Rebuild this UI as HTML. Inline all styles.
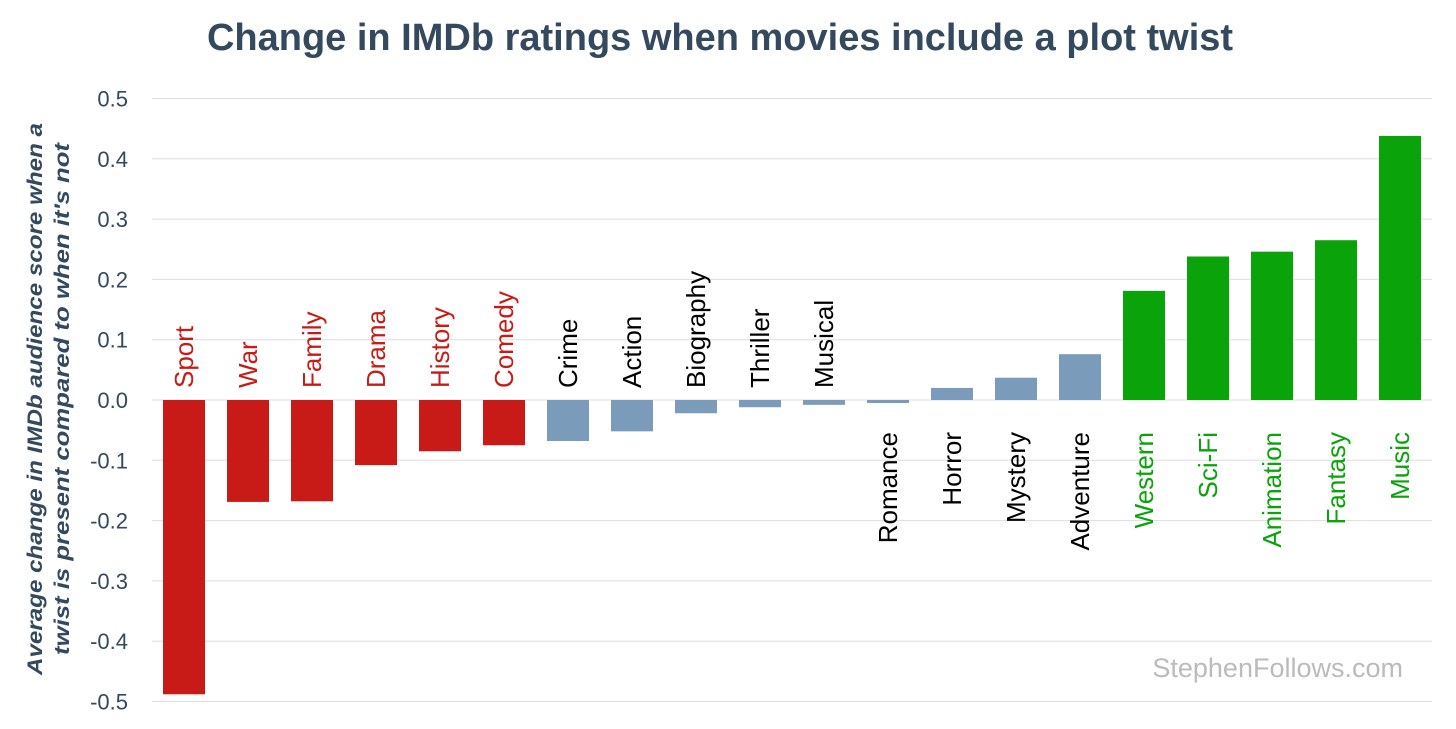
<!DOCTYPE html>
<html><head><meta charset="utf-8">
<style>
html,body{margin:0;padding:0;background:#fff;}
svg{display:block;font-family:"Liberation Sans",sans-serif;}
</style></head>
<body>
<svg id="chart" width="1456" height="729" viewBox="0 0 1456 729">
<text x="720" y="50" text-anchor="middle" font-size="38" font-weight="bold" fill="#34495e">Change in IMDb ratings when movies include a plot twist</text>
<g transform="translate(42,399) rotate(-90)" font-size="21.5" font-weight="bold" font-style="italic" fill="#34495e" text-anchor="middle">
<text x="0" y="0" textLength="552" lengthAdjust="spacingAndGlyphs">Average change in IMDb audience score when a</text>
<text x="0" y="27" textLength="512" lengthAdjust="spacingAndGlyphs">twist is present compared to when it's not</text>
</g>
<g id="grid"></g>
<g id="bars"></g>
<g id="labels"></g>
<text x="1403" y="677" text-anchor="end" font-size="27" fill="#bbbbbb">StephenFollows.com</text>
</svg>
<script>
const categories=["Sport","War","Family","Drama","History","Comedy","Crime","Action","Biography","Thriller","Musical","Romance","Horror","Mystery","Adventure","Western","Sci-Fi","Animation","Fantasy","Music"];
const values=[-0.488,-0.169,-0.168,-0.108,-0.085,-0.075,-0.068,-0.052,-0.022,-0.012,-0.008,-0.005,0.02,0.037,0.076,0.181,0.238,0.246,0.265,0.438];
const groups=["neg","neg","neg","neg","neg","neg","mid","mid","mid","mid","mid","mid","mid","mid","mid","pos","pos","pos","pos","pos"];
const labelSide=["above","above","above","above","above","above","above","above","above","above","above","below","below","below","below","below","below","below","below","below"];
const ticks=[0.5,0.4,0.3,0.2,0.1,0.0,-0.1,-0.2,-0.3,-0.4,-0.5];
const tickLabels=["0.5","0.4","0.3","0.2","0.1","0.0","-0.1","-0.2","-0.3","-0.4","-0.5"];
const NS="http://www.w3.org/2000/svg";
const y0=400,ppu=603,x0=184,step=64,bw=42,left=152,right=1432;
const y=v=>y0-v*ppu;
const x=i=>x0+i*step;
const barCol={neg:"#c81b17",mid:"#7a9cba",pos:"#0aa30a"};
const txtCol={neg:"#c81b17",mid:"#000000",pos:"#0aa30a"};
const grid=document.getElementById('grid'),bars=document.getElementById('bars'),labels=document.getElementById('labels');
ticks.forEach((t,i)=>{
 const l=document.createElementNS(NS,'line');
 l.setAttribute('x1',left);l.setAttribute('x2',right);
 l.setAttribute('y1',y(t));l.setAttribute('y2',y(t));
 l.setAttribute('stroke','#dddddd');l.setAttribute('stroke-width','1');
 
 
 grid.appendChild(l);
 const tx=document.createElementNS(NS,'text');
 tx.setAttribute('x',128);tx.setAttribute('y',y(t)+8);
 tx.setAttribute('text-anchor','end');tx.setAttribute('font-size','22');tx.setAttribute('fill','#34495e');
 tx.textContent=tickLabels[i];
 
 
 grid.appendChild(tx);
});
categories.forEach((c,i)=>{
 const v=values[i];
 const r=document.createElementNS(NS,'rect');
 r.setAttribute('x',x(i)-bw/2);r.setAttribute('width',bw);
 r.setAttribute('y',Math.min(y(v),y0));r.setAttribute('height',Math.abs(y(v)-y0));
 r.setAttribute('fill',barCol[groups[i]]);
 
 
 bars.appendChild(r);
 const t=document.createElementNS(NS,'text');
 const above=labelSide[i]==="above";
 const ly=above?388:432;
 t.setAttribute('transform','translate('+(x(i)+9)+','+ly+') rotate(-90)');
 t.setAttribute('text-anchor',above?'start':'end');
 t.setAttribute('font-size','26');
 t.setAttribute('fill',txtCol[groups[i]]);
 t.textContent=c;
 
 
 labels.appendChild(t);
});
</script>
</body></html>
